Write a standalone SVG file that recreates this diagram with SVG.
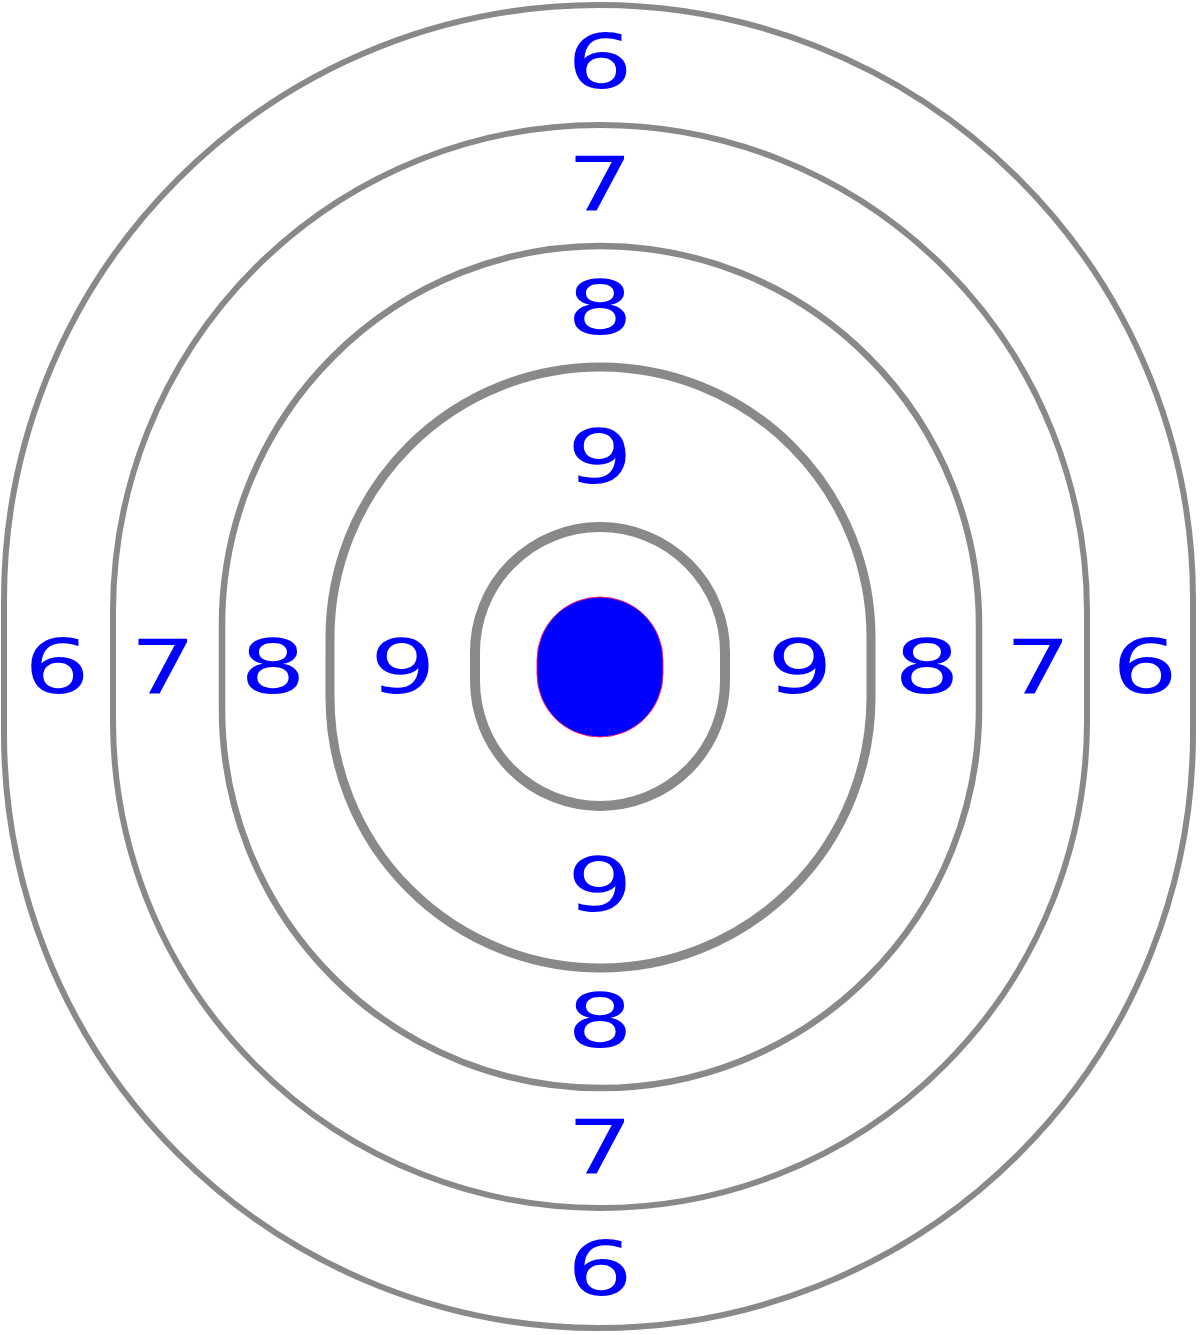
<svg xmlns="http://www.w3.org/2000/svg" width="1200" height="1335" viewBox="0 0 1200 1335">
<style>
.ring{fill:none;stroke:#898989}
.n{font-family:"DejaVu Sans","Verdana",sans-serif;font-size:74px;fill:#0000ff;text-anchor:middle}
</style>
<rect width="1200" height="1335" fill="#ffffff"/>
<g id="rings">
<g id="ring6"><path class="ring" stroke-width="6" d="M4,599.5 A594.5,594.5 0 0 1 1193,599.5 L1193,733.5 A594.5,594.5 0 0 1 4,733.5 Z"/></g>
<g id="ring7"><path class="ring" stroke-width="6" d="M113,612 A487,487 0 0 1 1087,612 L1087,721 A487,487 0 0 1 113,721 Z"/></g>
<g id="ring8"><path class="ring" stroke-width="6.5" d="M222,624.5 A378.5,378.5 0 0 1 979,624.5 L979,709.5 A378.5,378.5 0 0 1 222,709.5 Z"/></g>
<g id="ring9"><path class="ring" stroke-width="9" d="M330,637.5 A270.5,270.5 0 0 1 871,637.5 L871,697.5 A270.5,270.5 0 0 1 330,697.5 Z"/></g>
<g id="ring10"><path class="ring" stroke-width="10" d="M475,652 A125,125 0 0 1 725,652 L725,681 A125,125 0 0 1 475,681 Z"/></g>
<g id="bull"><path fill="#0000ff" stroke="#ff1a66" stroke-width="1" d="M537,660 A63,63 0 0 1 663,660 L663,674 A63,63 0 0 1 537,674 Z"/></g>
</g>
<g id="labels">
<g id="t6top"><text class="n" transform="translate(600,88) scale(1.4,1)">6</text></g>
<g id="t7top"><text class="n" transform="translate(600,210) scale(1.4,1)">7</text></g>
<g id="t8top"><text class="n" transform="translate(600,334) scale(1.4,1)">8</text></g>
<g id="t9top"><text class="n" transform="translate(600,483) scale(1.4,1)">9</text></g>
<g id="t9bot"><text class="n" transform="translate(600,911) scale(1.4,1)">9</text></g>
<g id="t8bot"><text class="n" transform="translate(600,1047) scale(1.4,1)">8</text></g>
<g id="t7bot"><text class="n" transform="translate(600,1173) scale(1.4,1)">7</text></g>
<g id="t6bot"><text class="n" transform="translate(600,1295) scale(1.4,1)">6</text></g>
<g id="t6left"><text class="n" transform="translate(57,693) scale(1.4,1)">6</text></g>
<g id="t7left"><text class="n" transform="translate(163,693) scale(1.4,1)">7</text></g>
<g id="t8left"><text class="n" transform="translate(273,693) scale(1.4,1)">8</text></g>
<g id="t9left"><text class="n" transform="translate(403,693) scale(1.4,1)">9</text></g>
<g id="t9right"><text class="n" transform="translate(800,693) scale(1.4,1)">9</text></g>
<g id="t8right"><text class="n" transform="translate(927,693) scale(1.4,1)">8</text></g>
<g id="t7right"><text class="n" transform="translate(1038,693) scale(1.4,1)">7</text></g>
<g id="t6right"><text class="n" transform="translate(1145,693) scale(1.4,1)">6</text></g>
</g>
</svg>
